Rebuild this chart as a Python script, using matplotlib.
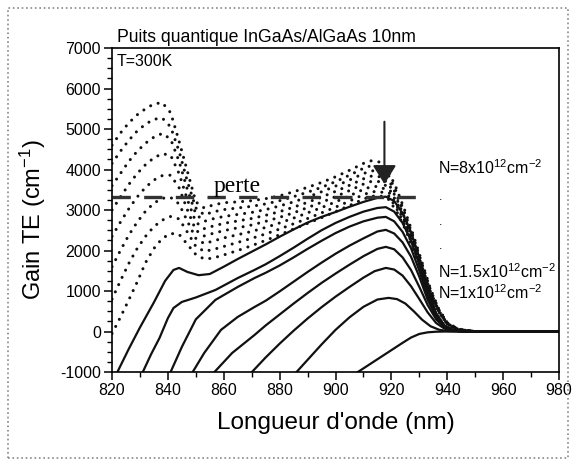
import numpy as np
import matplotlib.pyplot as plt
from matplotlib.patches import Rectangle

plt.rcParams['font.family'] = ['Liberation Sans', 'DejaVu Sans']
plt.rcParams['mathtext.fontset'] = 'custom'
plt.rcParams['mathtext.rm'] = 'Liberation Sans'
plt.rcParams['mathtext.default'] = 'regular'
plt.rcParams['axes.unicode_minus'] = False

# solid curves (low carrier densities), bottom to top
solid_wl = [
    [906, 908, 912, 916, 920, 924, 927, 930, 933, 936, 940, 960, 980],
    [885, 890, 895, 900, 905, 910, 915, 919, 922, 925, 928, 931, 934, 937, 940, 944, 960, 980],
    [869, 875, 880, 885, 890, 895, 900, 905, 910, 914, 918, 921, 924, 927, 930, 933, 936, 939, 942, 946, 960, 980],
    [856, 863, 871, 875, 880, 885, 890, 895, 900, 905, 910, 915, 918, 921, 924, 927, 930, 933, 936, 939, 942, 946, 960, 980],
    [848, 853, 859, 865, 871, 875, 880, 885, 890, 895, 900, 905, 910, 915, 918, 921, 924, 927, 930, 933, 936, 939, 942, 946, 960, 980],
    [840, 845, 850, 857, 865, 871, 875, 880, 885, 890, 895, 900, 905, 910, 915, 918, 921, 924, 927, 930, 933, 936, 939, 942, 946, 960, 980],
    [830, 834, 837, 840, 842, 845, 850, 857, 865, 871, 875, 880, 885, 890, 895, 900, 905, 910, 915, 918, 921, 924, 927, 930, 933, 936, 939, 942, 946, 960, 980],
    [821, 826, 830, 835, 839, 842, 844, 847, 851, 855, 860, 865, 870, 875, 880, 885, 890, 895, 900, 905, 910, 915, 918, 921, 924, 927, 930, 933, 936, 939, 942, 946, 960, 980],
]
solid_gain = [
    [-1100, -1000, -820, -640, -460, -280, -150, -60, -20, -5, 0, 0, 0],
    [-1080, -700, -320, 40, 350, 610, 790, 830, 800, 690, 500, 290, 130, 45, 10, 0, 0, 0],
    [-1080, -640, -300, 20, 320, 600, 860, 1100, 1330, 1490, 1570, 1530, 1380, 1120, 800, 470, 210, 70, 20, 0, 0, 0],
    [-1050, -530, -86, 150, 420, 690, 950, 1200, 1430, 1650, 1860, 2040, 2090, 2030, 1830, 1520, 1100, 650, 300, 100, 25, 0, 0, 0],
    [-1100, -530, 40, 360, 605, 760, 990, 1230, 1470, 1700, 1920, 2120, 2300, 2470, 2510, 2420, 2200, 1850, 1350, 780, 350, 120, 30, 0, 0, 0],
    [-1150, -380, 300, 780, 1100, 1320, 1450, 1630, 1830, 2040, 2240, 2430, 2590, 2720, 2810, 2830, 2720, 2460, 2060, 1500, 870, 390, 130, 35, 0, 0, 0],
    [-1150, -560, -160, 330, 580, 730, 840, 1025, 1320, 1520, 1660, 1860, 2070, 2290, 2500, 2680, 2830, 2960, 3050, 3070, 2960, 2680, 2250, 1650, 950, 420, 140, 40, 0, 0, 0],
    [-1130, -430, 100, 720, 1250, 1520, 1570, 1470, 1390, 1420, 1600, 1790, 1970, 2150, 2340, 2520, 2690, 2830, 2950, 3080, 3200, 3300, 3330, 3220, 2920, 2460, 1820, 1060, 460, 150, 40, 0, 0, 0],
]

# dotted curves (high carrier densities), bottom to top
dot_wl = [820, 823, 826, 829, 832, 835, 838, 841, 844, 847, 850, 853, 856, 860, 865, 870, 875, 880, 885, 890,
          895, 900, 905, 910, 913, 916, 919, 922, 925, 928, 931, 934, 937, 940, 944, 950, 960, 980]
dot_gain = [
    [-50, 350, 780, 1220, 1700, 2050, 2300, 2420, 2400, 2150, 1900, 1790, 1810, 1890, 2000, 2120, 2250, 2390, 2530, 2670,
     2810, 2960, 3110, 3270, 3340, 3350, 3260, 2950, 2520, 2000, 1460, 900, 470, 175, 40, 0, 0, 0],
    [800, 1250, 1680, 2050, 2350, 2590, 2750, 2840, 2780, 2450, 2100, 1980, 2020, 2100, 2200, 2300, 2410, 2530, 2660, 2790,
     2930, 3070, 3220, 3380, 3450, 3460, 3350, 3020, 2580, 2050, 1500, 920, 480, 180, 45, 0, 0, 0],
    [1600, 2000, 2380, 2700, 2970, 3170, 3290, 3310, 3150, 2720, 2300, 2170, 2230, 2310, 2390, 2470, 2570, 2680, 2800, 2930,
     3060, 3200, 3350, 3510, 3580, 3580, 3450, 3100, 2640, 2100, 1530, 940, 490, 185, 45, 0, 0, 0],
    [2350, 2700, 3030, 3320, 3560, 3740, 3850, 3860, 3550, 3000, 2500, 2360, 2420, 2490, 2560, 2630, 2720, 2820, 2930, 3060,
     3190, 3330, 3480, 3640, 3710, 3700, 3550, 3180, 2700, 2150, 1560, 960, 500, 190, 45, 0, 0, 0],
    [3000, 3320, 3630, 3900, 4120, 4290, 4390, 4350, 3900, 3250, 2700, 2540, 2600, 2670, 2730, 2790, 2870, 2960, 3070, 3190,
     3320, 3460, 3610, 3770, 3840, 3820, 3650, 3260, 2760, 2200, 1590, 980, 510, 195, 50, 0, 0, 0],
    [3600, 3900, 4200, 4450, 4650, 4800, 4890, 4750, 4200, 3500, 2900, 2720, 2780, 2840, 2890, 2940, 3010, 3100, 3200, 3320,
     3450, 3590, 3740, 3900, 3970, 3940, 3750, 3340, 2820, 2250, 1620, 1000, 520, 200, 50, 0, 0, 0],
    [4150, 4450, 4720, 4950, 5120, 5240, 5270, 5050, 4450, 3700, 3050, 2880, 2950, 3010, 3050, 3090, 3150, 3230, 3330, 3440,
     3560, 3700, 3860, 4030, 4100, 4060, 3850, 3420, 2880, 2300, 1660, 1020, 530, 210, 55, 0, 0, 0],
    [4600, 4900, 5150, 5350, 5500, 5620, 5650, 5400, 4700, 3950, 3200, 3050, 3120, 3180, 3200, 3230, 3280, 3350, 3450, 3560,
     3680, 3820, 3980, 4150, 4220, 4180, 3950, 3500, 2950, 2350, 1700, 1050, 550, 220, 60, 0, 0, 0],
]

loss_level = 3330
loss_wl = [820, 931]

title_txt = 'Puits quantique InGaAs/AlGaAs 10nm'
temp_txt = 'T=300K'
n_labels = ['N=8x10$^{12}$cm$^{-2}$', 'N=1.5x10$^{12}$cm$^{-2}$', 'N=1x10$^{12}$cm$^{-2}$']
n_label_y = [4037, 1469, 951]
dots_y = [3321, 2704, 2111]

fig = plt.figure(figsize=(5.78, 4.62), dpi=100)
ax = fig.add_axes([0.1938, 0.1948, 0.7734, 0.7013])

for g in dot_gain:
    ax.plot(dot_wl, g, color='#111111', lw=2.2, ls=(0, (0.01, 2.6)), dash_capstyle='round')

for wl, g in zip(solid_wl, solid_gain):
    ax.plot(wl, g, color='#111111', lw=1.6, solid_joinstyle='round')

ax.plot(loss_wl, [loss_level, loss_level], color='#333333', lw=2.4, ls=(0, (5.5, 4)))
ax.text(856.2, 3444, 'perte', family=['Liberation Serif', 'DejaVu Serif'], fontsize=17, va='baseline')

ax.annotate('', xy=(917.5, 3640), xytext=(917.5, 5180),
            arrowprops=dict(arrowstyle='-|>,head_length=0.32,head_width=0.2', mutation_scale=36,
                            lw=1.5, color='#222222', shrinkA=0, shrinkB=0))

for txt, y in zip(n_labels, n_label_y):
    ax.text(936.5, y, txt, fontsize=11.5, va='center')
for y in dots_y:
    ax.text(937, y, '.', fontsize=9, va='center')

ax.text(0.011, 1.031, title_txt, transform=ax.transAxes, fontsize=12.7, va='center', clip_on=False)
ax.text(0.011, 0.957, temp_txt, transform=ax.transAxes, fontsize=11.5, va='center')

ax.set_xlim(820, 980)
ax.set_ylim(-1000, 7000)
ax.set_xticks(np.arange(820, 981, 20))
ax.set_xticks(np.arange(830, 980, 20), minor=True)
ax.set_yticks(np.arange(-1000, 7001, 1000))
ax.set_yticks(np.arange(-1000, 7001, 250), minor=True)
ax.tick_params(which='major', direction='out', length=6, width=1.1, labelsize=11.5, pad=2,
               top=False, right=False)
ax.tick_params(which='minor', direction='out', length=3.5, width=1.0, top=False, right=False)
for s in ax.spines.values():
    s.set_linewidth(1.2)

ax.set_xlabel("Longueur d'onde (nm)", fontsize=17.5)
ax.set_ylabel('Gain TE (cm$^{-1}$)', fontsize=17)
ax.xaxis.set_label_coords(0.5, -0.122)
ax.yaxis.set_label_coords(-0.143, 0.47)

fig.patches.append(Rectangle((8 / 578, 4 / 462), 560 / 578, 450 / 462, transform=fig.transFigure,
                             fill=False, ls=':', lw=1.2, ec='#888888'))

fig.savefig('out.png', dpi=100)
